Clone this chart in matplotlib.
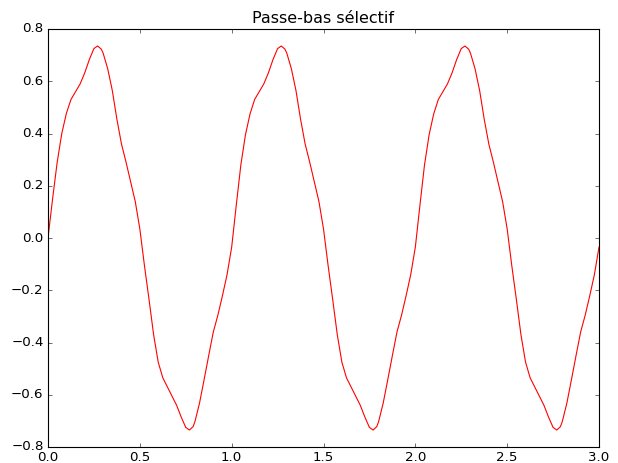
import matplotlib.pyplot as plt

title = "Passe-bas sélectif"

# values, three periods
t = [0.000, 0.025, 0.050, 0.075, 0.100, 0.125, 0.150, 0.175, 0.200, 0.225,
     0.250, 0.270, 0.290, 0.300, 0.325, 0.350, 0.375, 0.400, 0.425, 0.450,
     0.475, 0.500, 0.525, 0.550, 0.575, 0.600, 0.625, 0.650, 0.675, 0.700,
     0.725, 0.750, 0.770, 0.790, 0.800, 0.825, 0.850, 0.875, 0.900, 0.925,
     0.950, 0.975,
     1.000, 1.025, 1.050, 1.075, 1.100, 1.125, 1.150, 1.175, 1.200, 1.225,
     1.250, 1.270, 1.290, 1.300, 1.325, 1.350, 1.375, 1.400, 1.425, 1.450,
     1.475, 1.500, 1.525, 1.550, 1.575, 1.600, 1.625, 1.650, 1.675, 1.700,
     1.725, 1.750, 1.770, 1.790, 1.800, 1.825, 1.850, 1.875, 1.900, 1.925,
     1.950, 1.975,
     2.000, 2.025, 2.050, 2.075, 2.100, 2.125, 2.150, 2.175, 2.200, 2.225,
     2.250, 2.270, 2.290, 2.300, 2.325, 2.350, 2.375, 2.400, 2.425, 2.450,
     2.475, 2.500, 2.525, 2.550, 2.575, 2.600, 2.625, 2.650, 2.675, 2.700,
     2.725, 2.750, 2.770, 2.790, 2.800, 2.825, 2.850, 2.875, 2.900, 2.925,
     2.950, 2.975, 3.000]

v = [0.000, 0.150, 0.290, 0.400, 0.477, 0.530, 0.560, 0.590, 0.632, 0.683,
     0.725, 0.735, 0.723, 0.708, 0.648, 0.565, 0.455, 0.360, 0.290, 0.215,
     0.140, 0.035, -0.105, -0.235, -0.370, -0.475, -0.535, -0.570, -0.605, -0.640,
     -0.685, -0.725, -0.735, -0.722, -0.703, -0.632, -0.542, -0.450, -0.360, -0.295,
     -0.220, -0.140,
     -0.035, 0.125, 0.280, 0.395, 0.475, 0.530, 0.560, 0.590, 0.632, 0.683,
     0.725, 0.735, 0.723, 0.708, 0.648, 0.565, 0.455, 0.360, 0.290, 0.215,
     0.140, 0.035, -0.105, -0.235, -0.370, -0.475, -0.535, -0.570, -0.605, -0.640,
     -0.685, -0.725, -0.735, -0.722, -0.703, -0.632, -0.542, -0.450, -0.360, -0.295,
     -0.220, -0.140,
     -0.035, 0.125, 0.280, 0.395, 0.475, 0.530, 0.560, 0.590, 0.632, 0.683,
     0.725, 0.735, 0.723, 0.708, 0.648, 0.565, 0.455, 0.360, 0.290, 0.215,
     0.140, 0.035, -0.105, -0.235, -0.370, -0.475, -0.535, -0.570, -0.605, -0.640,
     -0.685, -0.725, -0.735, -0.722, -0.703, -0.632, -0.542, -0.450, -0.360, -0.295,
     -0.220, -0.140, -0.035]

plt.style.use("classic")
fig = plt.figure(figsize=(618 / 80, 463 / 80), dpi=80, facecolor="white")
ax = fig.add_axes([48 / 618, 16 / 463, 551 / 618, 418 / 463])
ax.plot(t, v, "r-", lw=1.0)
ax.set_xlim(0, 3)
ax.set_ylim(-0.8, 0.8)
ax.set_xticks([0.0, 0.5, 1.0, 1.5, 2.0, 2.5, 3.0])
ax.set_yticks([-0.8, -0.6, -0.4, -0.2, 0.0, 0.2, 0.4, 0.6, 0.8])
ax.set_title(title, fontsize=14.4)

fig.savefig("out.png", dpi=80, facecolor="white")
